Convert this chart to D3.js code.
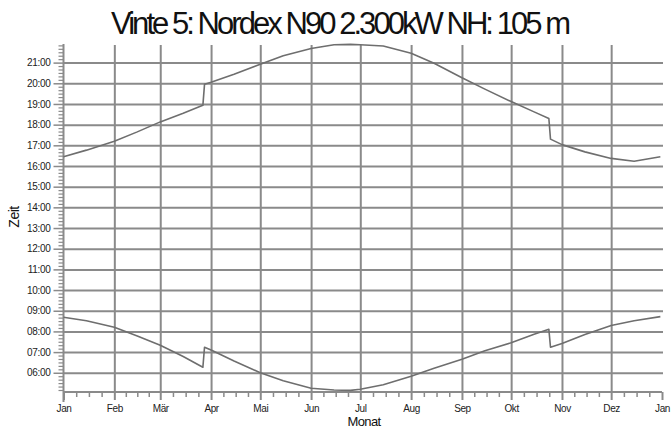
<!DOCTYPE html>
<html>
<head>
<meta charset="utf-8">
<script src="https://cdn.jsdelivr.net/npm/d3@7"></script>
<style>
  html, body { margin: 0; padding: 0; background: #fff; }
  svg { display: block; font-family: "Liberation Sans", Arial, sans-serif; }
</style>
</head>
<body>
<svg id="chart" width="671" height="430"></svg>
<script>
// ---- data ----
const titleText = "Vinte 5: Nordex N90 2.300kW NH: 105 m";
const xLabel = "Monat";
const yLabel = "Zeit";
const monthLabels = ["Jan","Feb","Mär","Apr","Mai","Jun","Jul","Aug","Sep","Okt","Nov","Dez","Jan"];
const hourLabels = ["06:00","07:00","08:00","09:00","10:00","11:00","12:00","13:00","14:00","15:00","16:00","17:00","18:00","19:00","20:00","21:00"];

// sunset (upper curve)
const sunsetDates = ["01-01","01-15","02-01","02-15","03-01","03-15","03-27","03-28","04-01","04-15","05-01","05-15","06-01","06-15","06-25","07-01","07-15","08-01","08-15","09-01","09-15","10-01","10-15","10-24","10-25","11-01","11-15","12-01","12-15","12-31"];
const sunsetTimes = ["16:27","16:46","17:12","17:39","18:08","18:33","18:56","19:57","20:03","20:26","20:55","21:20","21:41","21:52","21:53","21:52","21:48","21:27","20:58","20:16","19:43","19:07","18:37","18:18","17:18","17:02","16:41","16:22","16:14","16:27"];

// sunrise (lower curve)
const sunriseDates = ["01-01","01-15","02-01","02-15","03-01","03-15","03-27","03-28","04-01","04-15","05-01","05-15","06-01","06-15","06-25","07-01","07-15","08-01","08-15","09-01","09-15","10-01","10-15","10-24","10-25","11-01","11-15","12-01","12-15","12-31"];
const sunriseTimes = ["08:41","08:31","08:12","07:47","07:20","06:47","06:16","07:14","07:06","06:34","06:00","05:37","05:15","05:10","05:09","05:12","05:25","05:50","06:13","06:39","07:04","07:27","07:52","08:06","07:14","07:25","07:51","08:17","08:31","08:43"];

// ---- helpers ----
const YEAR = 2010;
const parseDate = s => { const [m, d] = s.split("-").map(Number); return new Date(YEAR, m - 1, d); };
const parseTime = s => { const [h, m] = s.split(":").map(Number); return h + m / 60; };
const sunset = sunsetDates.map((d, i) => ({ date: parseDate(d), t: parseTime(sunsetTimes[i]) }));
const sunrise = sunriseDates.map((d, i) => ({ date: parseDate(d), t: parseTime(sunriseTimes[i]) }));

// ---- layout ----
const svg = d3.select("#chart");
const pLeft = 63.5, pRight = 662, pTop = 44, pBottom = 392;
const gridRight = 663;
const gridColor = "#8a8a8a";
const lineColor = "#6e6e6e";

const x = d3.scaleTime().domain([new Date(YEAR, 0, 1), new Date(YEAR + 1, 0, 1)]).range([pLeft, pRight]);
const y = d3.scaleLinear().domain([5.07, 21.9]).range([pBottom, pTop]);

const monthDates = monthLabels.map((m, i) => new Date(YEAR, i, 1));
const hourVals = hourLabels.map(parseTime);

// minor ticks
const minorHours = d3.range(Math.ceil(5.07 * 6), Math.floor(21.9 * 6) + 1).map(v => v / 6).filter(v => Math.abs(v - Math.round(v)) > 1e-6);
const minorDays = [];
for (let m = 0; m < 12; m++) {
  const a = new Date(YEAR, m, 1), b = new Date(YEAR, m + 1, 1);
  for (let k = 1; k < 4; k++) minorDays.push(new Date(+a + (b - a) * k / 4));
}

// horizontal gridlines
svg.append("g")
  .attr("transform", `translate(${pLeft},0)`)
  .call(d3.axisLeft(y).tickValues(hourVals).tickSize(-(gridRight - pLeft)).tickFormat(""))
  .call(g => g.select(".domain").remove())
  .call(g => g.selectAll("line").attr("stroke", gridColor).attr("stroke-width", 2));

// vertical gridlines
svg.append("g")
  .attr("transform", `translate(0,${pBottom})`)
  .call(d3.axisBottom(x).tickValues(monthDates.slice(1, 12)).tickSize(-(pBottom - pTop - 1)).tickFormat(""))
  .call(g => g.select(".domain").remove())
  .call(g => g.selectAll("line").attr("stroke", gridColor).attr("stroke-width", 2));

// y axis minor ticks
svg.append("g")
  .attr("transform", `translate(${pLeft},0)`)
  .call(d3.axisLeft(y).tickValues(minorHours).tickSize(5).tickFormat(""))
  .call(g => g.select(".domain").remove())
  .call(g => g.selectAll("line").attr("stroke", gridColor).attr("stroke-width", 1.2));

// y axis major
svg.append("g")
  .attr("transform", `translate(${pLeft},0)`)
  .call(d3.axisLeft(y).tickValues(hourVals).tickSize(10).tickPadding(3).tickFormat((d, i) => hourLabels[i]))
  .call(g => g.select(".domain").attr("stroke", gridColor).attr("stroke-width", 2).attr("d", `M0,${pTop}V${pBottom + 10}`))
  .call(g => g.selectAll("line").attr("stroke", gridColor).attr("stroke-width", 1.5))
  .call(g => g.selectAll("text").attr("font-size", 10).attr("fill", "#222").attr("letter-spacing", "-0.3px").attr("font-family", "Liberation Sans, Arial, sans-serif"));

// x axis minor ticks
svg.append("g")
  .attr("transform", `translate(0,${pBottom})`)
  .call(d3.axisBottom(x).tickValues(minorDays).tickSize(5).tickFormat(""))
  .call(g => g.select(".domain").remove())
  .call(g => g.selectAll("line").attr("stroke", gridColor).attr("stroke-width", 1.5));

// x axis major
svg.append("g")
  .attr("transform", `translate(0,${pBottom})`)
  .call(d3.axisBottom(x).tickValues(monthDates).tickSize(8).tickPadding(5).tickFormat((d, i) => monthLabels[i]))
  .call(g => g.select(".domain").attr("stroke", gridColor).attr("stroke-width", 2).attr("d", `M${pLeft},0H${pRight}`))
  .call(g => g.selectAll("line").attr("stroke", gridColor).attr("stroke-width", 2))
  .call(g => g.selectAll("text").attr("font-size", 10).attr("fill", "#222").attr("letter-spacing", "-0.4px").attr("font-family", "Liberation Sans, Arial, sans-serif"));

// curves
const line = d3.line().x(d => x(d.date)).y(d => y(d.t)).curve(d3.curveLinear);
[sunset, sunrise].forEach(data => {
  svg.append("path")
    .datum(data)
    .attr("fill", "none")
    .attr("stroke", lineColor)
    .attr("stroke-width", 1.6)
    .attr("stroke-linejoin", "round")
    .attr("d", line);
});

// title
svg.append("text")
  .attr("x", 341).attr("y", 34)
  .attr("text-anchor", "middle")
  .attr("font-size", 31)
  .attr("fill", "#111")
  .attr("textLength", 460)
  .attr("lengthAdjust", "spacing")
  .text(titleText);

// axis titles
svg.append("text")
  .attr("x", 364).attr("y", 426)
  .attr("text-anchor", "middle")
  .attr("font-size", 13)
  .attr("letter-spacing", "-0.6px")
  .attr("fill", "#111")
  .text(xLabel);

svg.append("text")
  .attr("transform", "translate(19,217) rotate(-90)")
  .attr("text-anchor", "middle")
  .attr("font-size", 14)
  .attr("letter-spacing", "-0.5px")
  .attr("fill", "#111")
  .text(yLabel);
</script>
</body>
</html>
